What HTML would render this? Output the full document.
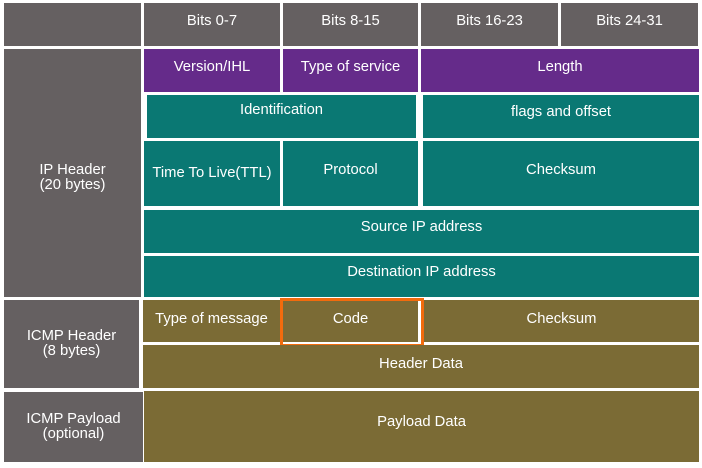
<!DOCTYPE html>
<html><head><style>
body{margin:0;width:702px;height:468px;background:#fff;position:relative;overflow:hidden;font-family:"Liberation Sans",sans-serif;}
.c{position:absolute;display:flex;align-items:center;justify-content:center;text-align:center;color:#fff;font-size:14.8px;line-height:15px;box-sizing:border-box;}
.g{background:#656061}.p{background:#652b8a}.t{background:#0a7873}.o{background:#7b6b35}
</style></head><body>
<div class="c g" style="left:4px;top:3px;width:137px;height:43px"></div>
<div class="c g" style="left:144px;top:3px;width:136px;height:43px;padding-bottom:6px">Bits 0-7</div>
<div class="c g" style="left:283px;top:3px;width:135px;height:43px;padding-bottom:6px">Bits 8-15</div>
<div class="c g" style="left:421px;top:3px;width:137px;height:43px;padding-bottom:6px">Bits 16-23</div>
<div class="c g" style="left:561px;top:3px;width:137px;height:43px;padding-bottom:6px">Bits 24-31</div>

<div class="c g" style="left:4px;top:49px;width:137px;height:248px;padding-top:10px">IP Header<br>(20 bytes)</div>
<div class="c p" style="left:144px;top:49px;width:136px;height:43px;padding-bottom:6px">Version/IHL</div>
<div class="c p" style="left:283px;top:49px;width:135px;height:43px;padding-bottom:6px">Type of service</div>
<div class="c p" style="left:421px;top:49px;width:278px;height:43px;padding-bottom:6px">Length</div>

<div class="c t" style="left:147px;top:95px;width:269px;height:43px;padding-bottom:12px">Identification</div>
<div class="c t" style="left:423px;top:95px;width:276px;height:43px;padding-bottom:8px">flags and offset</div>

<div class="c t" style="left:144px;top:141px;width:136px;height:65px">Time To Live(TTL)</div>
<div class="c t" style="left:283px;top:141px;width:135px;height:65px;padding-bottom:6px">Protocol</div>
<div class="c t" style="left:423px;top:141px;width:276px;height:65px;padding-bottom:6px">Checksum</div>

<div class="c t" style="left:144px;top:210px;width:555px;height:43px;padding-bottom:8px">Source IP address</div>
<div class="c t" style="left:144px;top:256px;width:555px;height:41px;padding-bottom:8px">Destination IP address</div>

<div class="c g" style="left:4px;top:300px;width:135px;height:88px">ICMP Header<br>(8 bytes)</div>
<div class="c o" style="left:143px;top:300px;width:137px;height:42px;padding-bottom:4px">Type of message</div>
<div class="c o" style="left:283px;top:300px;width:135px;height:42px;padding-bottom:4px">Code</div>
<div class="c o" style="left:424px;top:300px;width:275px;height:42px;padding-bottom:4px">Checksum</div>
<div style="position:absolute;left:280px;top:298px;width:144px;height:49px;border:3px solid #f26b0d;box-sizing:border-box"></div>
<div class="c o" style="left:143px;top:345px;width:556px;height:43px;padding-bottom:4px">Header Data</div>

<div class="c g" style="left:4px;top:392px;width:139px;height:70px">ICMP Payload<br>(optional)</div>
<div class="c o" style="left:144px;top:391px;width:555px;height:71px;padding-bottom:8px">Payload Data</div>
</body></html>
